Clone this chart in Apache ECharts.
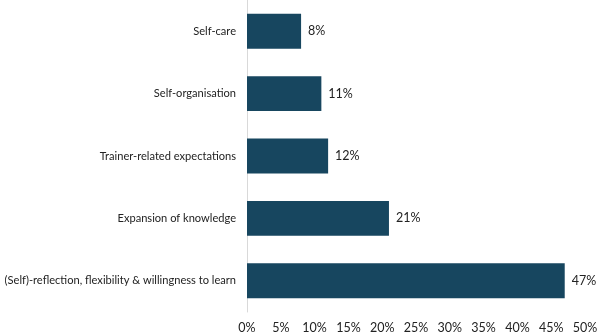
<!DOCTYPE html>
<html>
<head>
<meta charset="utf-8">
<script src="https://cdn.jsdelivr.net/npm/echarts@6/dist/echarts.min.js"></script>
<style>
html,body{margin:0;padding:0;background:#fff;}
#chart{width:600px;height:335px;}
</style>
</head>
<body>
<div id="chart"></div>
<script>
// categories top to bottom
var categories = ['Self-care', 'Self-organisation', 'Trainer-related expectations', 'Expansion of knowledge', '(Self)-reflection, flexibility & willingness to learn'];
var values = [8, 11, 12, 21, 47];
var xTicks = [0, 5, 10, 15, 20, 25, 30, 35, 40, 45, 50];

var chart = echarts.init(document.getElementById('chart'));
var fontName = 'Lato';

var option = {
    animation: false,
    grid: {
        left: 247,
        right: 15,
        top: 0,
        bottom: 23,
        outerBoundsMode: 'none'
    },
    xAxis: {
        type: 'value',
        min: xTicks[0],
        max: xTicks[xTicks.length - 1],
        interval: 5,
        axisLine: { show: false },
        axisTick: { show: false },
        splitLine: { show: false },
        axisLabel: {
            formatter: '{value}%',
            color: '#222',
            fontSize: 12.5,
            fontFamily: fontName,
            margin: 9
        }
    },
    yAxis: {
        type: 'category',
        inverse: true,
        data: categories,
        axisLine: { show: true, lineStyle: { color: '#d9d9d9', width: 1 } },
        axisTick: { show: false },
        axisLabel: {
            color: '#222',
            fontSize: 11.1,
            fontFamily: fontName,
            margin: 11
        }
    },
    series: [{
        type: 'bar',
        data: values,
        barCategoryGap: '44%',
        itemStyle: { color: '#17465f' },
        label: {
            show: true,
            position: 'right',
            distance: 7,
            formatter: '{c}%',
            color: '#222',
            fontSize: 12.5,
            fontFamily: fontName
        }
    }]
};

chart.setOption(option);
</script>
</body>
</html>
